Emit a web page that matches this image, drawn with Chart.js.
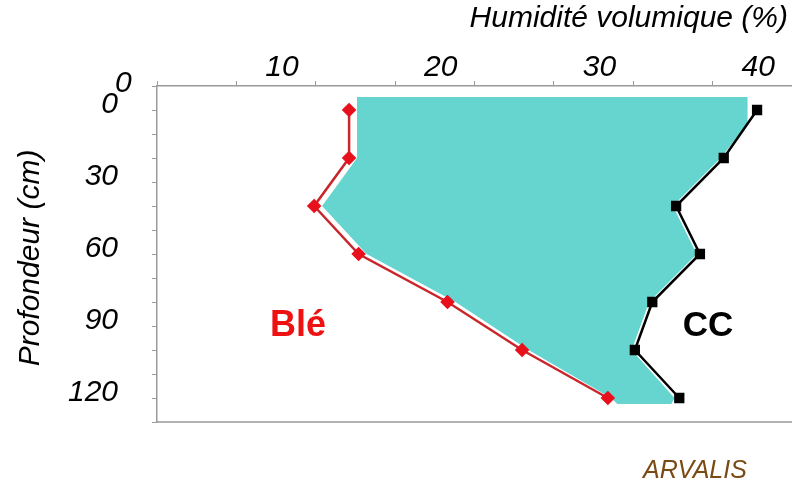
<!DOCTYPE html>
<html>
<head>
<meta charset="utf-8">
<script src="https://cdn.jsdelivr.net/npm/chart.js@4.4.0/dist/chart.umd.min.js"></script>
<style>
  html, body { margin: 0; padding: 0; background: #fff; }
</style>
</head>
<body>
<canvas id="chart" width="792" height="486"></canvas>
<script>
// profondeur (cm) et humidité volumique (%)
const depths = [0, 20, 40, 60, 80, 100, 120];
const ble = [14.1, 14.1, 11.9, 14.7, 20.3, 25.0, 30.4];
const cc = [39.8, 37.7, 34.7, 36.2, 33.2, 32.1, 34.9];

// contour de la zone colorée (réserve utile)
const fillDepths = [-5.4, 0, 5.8, 20, 40, 60, 80, 100, 120, 122.5];
const fillLeft = [14.6, 14.6, 14.6, 14.6, 12.4, 15.2, 20.8, 25.4, 30.6, 31.0];
const fillRight = [39.2, 39.2, 39.2, 37.5, 34.5, 36.0, 33.0, 31.9, 34.6, 34.4];

const xTickLabels = [0, 10, 20, 30, 40];
const yTickLabels = [0, 30, 60, 90, 120];

const FONT = "'Liberation Sans', Arial, sans-serif";
const AXIS_GREY = '#9a9a9a';

function pts(xs, ys) {
  return ys.map((y, i) => ({ x: xs[i], y: y }));
}

const textPlugin = {
  id: 'texts',
  afterDraw(chart) {
    const c = chart.ctx;
    const xs = chart.scales.x;
    const area = chart.chartArea;
    c.save();

    // axe du bas
    c.strokeStyle = AXIS_GREY;
    c.lineWidth = 1.5;
    c.beginPath();
    c.moveTo(area.left, area.bottom);
    c.lineTo(area.right, area.bottom);
    c.stroke();

    // graduations du haut
    c.fillStyle = '#000';
    c.font = 'italic 30px ' + FONT;
    c.textAlign = 'center';
    c.textBaseline = 'middle';
    xTickLabels.forEach(v => {
      const yy = v === 0 ? 84 : 68;
      c.fillText(String(v), xs.getPixelForValue(v) - 2, yy);
    });

    // titres
    c.textAlign = 'right';
    c.fillText('Humidité volumique (%)', 788, 19);

    c.save();
    c.translate(31, 258);
    c.rotate(-Math.PI / 2);
    c.textAlign = 'center';
    c.fillText('Profondeur (cm)', 0, 0);
    c.restore();

    // étiquettes des courbes
    c.textAlign = 'center';
    c.font = 'bold 36px ' + FONT;
    c.fillStyle = '#ee1111';
    c.fillText('Blé', 298, 326);
    c.fillStyle = '#000';
    c.font = 'bold 35px ' + FONT;
    c.fillText('CC', 708, 326);

    c.font = 'italic 25px ' + FONT;
    c.fillStyle = '#7a4a14';
    c.fillText('ARVALIS', 695, 471);
    c.restore();
  }
};

const ctx = document.getElementById('chart').getContext('2d');

new Chart(ctx, {
  type: 'line',
  data: {
    datasets: [
      {
        label: 'zone',
        data: pts(fillLeft, fillDepths),
        borderColor: 'rgba(0,0,0,0)',
        backgroundColor: '#66d4cf',
        pointRadius: 0,
        fill: '+1',
        order: 2
      },
      {
        label: 'zone2',
        data: pts(fillRight, fillDepths),
        borderColor: 'rgba(0,0,0,0)',
        pointRadius: 0,
        fill: false,
        order: 2
      },
      {
        label: 'Blé',
        data: pts(ble, depths),
        borderColor: '#c9262b',
        borderWidth: 2.5,
        pointStyle: 'rectRot',
        pointRadius: 5.5,
        pointBackgroundColor: '#e8101c',
        pointBorderColor: '#e8101c',
        fill: false,
        order: 1
      },
      {
        label: 'CC',
        data: pts(cc, depths),
        borderColor: '#000',
        borderWidth: 2.5,
        pointStyle: 'rect',
        pointRadius: 5.5,
        pointBackgroundColor: '#000',
        pointBorderColor: '#000',
        fill: false,
        order: 1
      }
    ]
  },
  options: {
    responsive: false,
    animation: false,
    indexAxis: 'y',
    layout: { autoPadding: false, padding: { left: 0, right: 0, top: 0, bottom: 64 } },
    elements: { line: { tension: 0 } },
    plugins: {
      legend: { display: false },
      tooltip: { enabled: false }
    },
    scales: {
      x: {
        type: 'linear',
        position: 'top',
        min: 2,
        max: 42,
        ticks: { display: false },
        grid: { drawOnChartArea: false, drawTicks: true, tickLength: 5, color: AXIS_GREY },
        border: { color: AXIS_GREY, width: 1.5 },
        afterBuildTicks: s => {
          const marks = [];
          for (let v = 2; v <= 42; v += 5) marks.push({ value: v });
          s.ticks = marks;
        },
        afterFit: s => { s.height = 86; }
      },
      y: {
        type: 'linear',
        reverse: true,
        min: -10,
        max: 130,
        ticks: {
          stepSize: 10,
          autoSkip: false,
          padding: 34,
          labelOffset: -5,
          color: '#000',
          font: { family: FONT, size: 30, style: 'italic' },
          callback: v => yTickLabels.includes(v) ? String(v) : ''
        },
        grid: { drawOnChartArea: false, tickLength: 5, color: AXIS_GREY },
        border: { color: AXIS_GREY, width: 1.5 },
        afterFit: s => { s.width = 157; }
      }
    }
  },
  plugins: [textPlugin]
});
</script>
</body>
</html>
